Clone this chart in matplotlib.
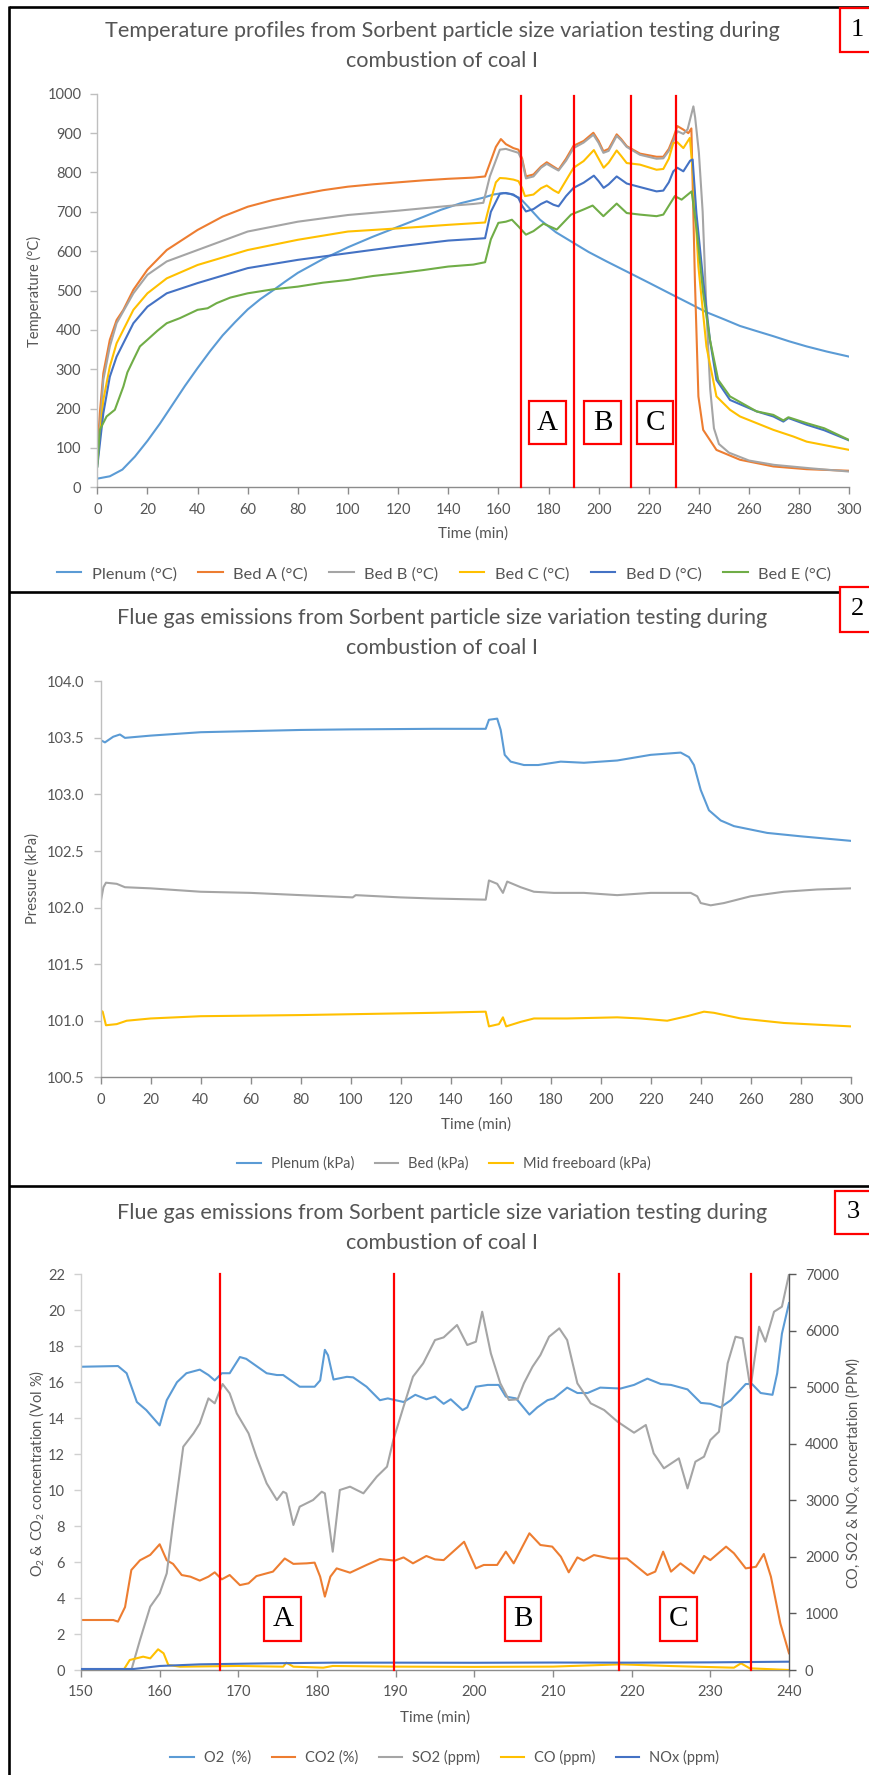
import matplotlib
matplotlib.use("Agg")
import matplotlib.pyplot as plt
from matplotlib.lines import Line2D
from matplotlib.patches import Rectangle

# ---------------------------------------------------------------- data
# Panel 1: temperature profiles (time in min, temperature in deg C)
plenum_t = [0, 5, 10, 15, 20, 25, 30, 35, 40, 45, 50, 55, 60, 65, 70, 75, 80, 90, 100, 110,
            120, 130, 137, 145, 154, 158, 162, 165, 168.6, 172, 176.6, 183, 190, 196, 203.2,
            213.8, 220, 229.8, 236, 243, 250, 256.4, 263, 269.7, 276, 283, 291, 300]
plenum_T = [22, 28, 45, 78, 118, 162, 210, 258, 303, 346, 386, 420, 452, 478, 500, 523, 545, 580, 610, 637,
            662, 687, 705, 722, 736, 744, 748, 745, 735, 712, 680, 648, 621, 598, 574,
            540, 520, 488, 468, 445, 427, 410, 397, 384, 371, 358, 345, 332]

bedA_t = [0, 1, 2.4, 5, 7.7, 10.4, 14.4, 20, 27.7, 40, 50, 60, 70, 80, 90, 100, 110, 120, 130, 140,
          150, 154.7, 157, 159, 161, 163, 166, 168, 169.5, 171, 174, 177, 179.3, 182, 184, 187,
          190, 194, 197.9, 200, 201.9, 204, 207.2, 209, 211.2, 216.5, 223.1, 225.8, 228, 229.8,
          231.4, 233.8, 235.8, 237, 238.4, 239.8, 241.7, 247, 256.4, 269.7, 283, 300]
bedA_T = [86, 188, 290, 375, 425, 451, 502, 553, 603, 654, 688, 713, 730, 743, 755, 764, 770, 775, 780, 784,
          787, 790, 830, 865, 885, 872, 862, 858, 835, 790, 795, 815, 826, 815, 807, 835,
          868, 880, 901, 880, 854, 860, 897, 885, 867, 848, 840, 840, 860, 888,
          918, 909, 900, 912, 527, 231, 146, 95, 70, 53, 46, 42]

bedB_t = [0, 2.4, 5, 7.7, 14.4, 20, 27.7, 40, 60, 80, 100, 120, 140, 150, 154, 156.6, 160.6, 163,
          166, 168, 169.5, 171, 174, 177, 179.3, 182, 184, 187, 190, 194, 197.9, 200, 201.9, 204,
          207.2, 209, 211.2, 216.5, 223.1, 225.8, 228, 229.8, 231.4, 233.8, 235.5, 237.8, 238.5,
          240, 241.5, 243, 244.5, 246, 248, 252, 260, 270, 285, 300]
bedB_T = [61, 273, 358, 417, 493, 540, 574, 603, 650, 675, 692, 703, 715, 720, 723, 790, 858, 860,
          854, 850, 830, 785, 790, 812, 822, 812, 805, 830, 862, 876, 896, 875, 850, 855,
          893, 882, 865, 845, 835, 836, 855, 880, 905, 898, 910, 968, 940,
          850, 700, 450, 250, 150, 110, 88, 68, 57, 48, 40]

bedC_t = [0, 2.4, 5, 7.7, 14.4, 20, 27.7, 40, 60, 80, 100, 120, 140, 150, 154.7, 157, 159, 160.6,
          163, 166, 168, 169.5, 170.6, 174, 177, 179.3, 182, 184, 187, 190, 194, 198.1, 200, 202,
          204, 207.2, 209, 211.2, 216.5, 223.1, 225.8, 228, 229.8, 231.4, 233.8, 236.4, 237.8,
          239.8, 243, 247, 252.4, 256.4, 269.7, 277.7, 283, 300]
bedC_T = [61, 222, 307, 366, 451, 493, 531, 565, 603, 629, 650, 658, 667, 671, 673, 730, 775, 786,
          785, 782, 778, 760, 740, 744, 760, 767, 755, 748, 780, 812, 829, 857, 835, 812,
          825, 856, 842, 824, 820, 807, 809, 835, 875, 877, 862, 888, 782,
          561, 358, 231, 197, 180, 146, 129, 116, 95]

bedD_t = [0, 2.4, 5, 7.7, 14.4, 20, 27.7, 40, 60, 80, 100, 120, 140, 150, 154.7, 157, 160.6, 163,
          166, 168, 169.5, 171, 174, 177, 179.3, 182, 184, 187, 190, 194, 198.1, 200, 202, 204,
          207.2, 209, 211.2, 216.5, 223.1, 225.8, 228, 229.8, 231.4, 233.8, 236.5, 237.5, 239,
          241.7, 244.4, 247, 252.4, 263, 269.7, 273.7, 275.7, 283, 290, 300]
bedD_T = [53, 188, 281, 332, 417, 459, 493, 519, 557, 578, 595, 612, 627, 631, 633, 700, 746, 748,
          744, 735, 715, 701, 707, 720, 727, 718, 714, 740, 761, 774, 792, 778, 761, 770,
          790, 782, 772, 763, 752, 754, 775, 803, 812, 803, 830, 833, 697,
          527, 375, 273, 222, 193, 180, 167, 176, 159, 145, 119]

bedE_t = [0, 1, 3.7, 7, 10.4, 12, 14.4, 17, 20, 24, 27.7, 33, 40, 44, 47.6, 53, 60, 70, 80, 90,
          100, 110, 120, 130, 140, 150, 154.7, 157, 160, 163, 165.4, 168, 171, 174, 178, 183.3,
          189, 194, 197.6, 201.9, 207.2, 211.2, 216.5, 223.1, 225.8, 230.4, 233.1, 237.1, 239.1,
          241.7, 244.4, 247.7, 252.4, 263, 269.7, 273.7, 275.7, 283, 290, 300]
bedE_T = [53, 146, 180, 197, 256, 292, 324, 358, 375, 398, 417, 430, 451, 455, 468, 482, 493, 503, 510, 520,
          527, 537, 544, 552, 561, 566, 572, 630, 672, 675, 680, 663, 642, 651, 670, 655,
          693, 706, 716, 689, 721, 697, 693, 689, 693, 740, 731, 752, 655,
          494, 375, 273, 231, 193, 184, 170, 178, 163, 150, 120]

bed_series = [
    ("Plenum (°C)", plenum_t, plenum_T, "#5B9BD5"),
    ("Bed A (°C)", bedA_t, bedA_T, "#ED7D31"),
    ("Bed B (°C)", bedB_t, bedB_T, "#A5A5A5"),
    ("Bed C (°C)", bedC_t, bedC_T, "#FFC000"),
    ("Bed D (°C)", bedD_t, bedD_T, "#4472C4"),
    ("Bed E (°C)", bedE_t, bedE_T, "#70AD47"),
]
temp_markers = [169.0, 190.3, 212.9, 231.0]
temp_boxes = [("A", 172.1, 186.9), ("B", 194.1, 208.9), ("C", 215.4, 229.8)]

# Panel 2: pressure (time in min, kPa)
p_plenum_t = [0, 1.7, 5, 7.7, 9.7, 20, 40, 60, 80, 100, 133.3, 154, 155.3, 158.6, 160, 161.6, 164,
              169.3, 175, 184, 193.3, 206.6, 220, 232, 235.3, 237.3, 240, 243.3, 248, 253.3,
              266.6, 280, 300]
p_plenum_v = [103.48, 103.46, 103.51, 103.53, 103.50, 103.52, 103.55, 103.56, 103.57, 103.575, 103.58,
              103.58, 103.66, 103.67, 103.57, 103.35, 103.29, 103.26, 103.26, 103.29, 103.28, 103.30,
              103.35, 103.37, 103.33, 103.26, 103.04, 102.86, 102.77, 102.72, 102.66, 102.63, 102.59]

p_bed_t = [0, 1.1, 2.1, 6.4, 9.7, 20, 40, 60, 80, 100.8, 102, 120, 133.3, 154, 155.3, 158.6, 160.9,
           162.6, 168, 173.3, 181.3, 193.3, 206.6, 220, 236, 238.6, 240, 244, 249.3, 260, 273.3,
           286.6, 300]
p_bed_v = [102.05, 102.18, 102.22, 102.21, 102.18, 102.17, 102.14, 102.13, 102.11, 102.09, 102.11,
           102.09, 102.08, 102.07, 102.24, 102.21, 102.13, 102.23, 102.18, 102.14, 102.13, 102.13,
           102.11, 102.13, 102.13, 102.10, 102.04, 102.02, 102.04, 102.10, 102.14, 102.16, 102.17]

p_mid_t = [0, 0.8, 2.1, 6.4, 10.4, 20, 40, 80, 133.3, 154, 155.3, 159.3, 160.9, 162.2, 168, 173.3,
           186.6, 206.6, 216, 226.6, 234.6, 241.3, 245.3, 256, 273.3, 300]
p_mid_v = [101.09, 101.08, 100.96, 100.97, 101.00, 101.02, 101.04, 101.05, 101.07, 101.08, 100.95,
           100.97, 101.03, 100.95, 100.99, 101.02, 101.02, 101.03, 101.02, 101.00, 101.04, 101.08,
           101.07, 101.02, 100.98, 100.95]

# Panel 3: flue gas composition, 150-240 min
o2_t = [150, 154.7, 155.8, 157.1, 158.3, 159.4, 160, 160.9, 162.2, 163.4, 165.1, 166.2, 167, 167.9,
        168.9, 170.2, 171, 173.6, 174.9, 175.7, 177.8, 179.7, 180.4, 181, 181.4, 182.1, 183.8,
        184.6, 186.3, 188, 189, 191, 192.5, 193.9, 195, 196.1, 197, 198.5, 199.1, 200.2, 201.7,
        203.1, 204, 205.3, 207, 208, 209.3, 210.1, 211.8, 213.1, 214.4, 216, 218.6, 220.3, 222,
        223.7, 225, 227.1, 228.8, 230, 231.3, 232.6, 234.5, 235.3, 236.4, 237.9, 238.5, 239.1, 240]
o2_v = [16.86, 16.9, 16.5, 14.9, 14.45, 13.9, 13.6, 15.0, 16.0, 16.5, 16.7, 16.4, 16.1, 16.5,
        16.5, 17.4, 17.3, 16.5, 16.4, 16.4, 15.75, 15.75, 16.1, 17.8, 17.5, 16.15, 16.3,
        16.27, 15.75, 15.0, 15.1, 14.9, 15.3, 15.05, 15.2, 14.8, 15.05, 14.45, 14.6, 15.75, 15.85,
        15.85, 15.2, 15.1, 14.2, 14.6, 15.0, 15.1, 15.7, 15.4, 15.4, 15.7, 15.65, 15.85, 16.2,
        15.9, 15.85, 15.6, 14.85, 14.8, 14.6, 15.0, 15.9, 15.9, 15.4, 15.3, 16.5, 18.7, 20.4]

co2_t = [150, 154.1, 154.7, 155.6, 156.4, 157.5, 158.8, 160, 160.9, 161.7, 162.8, 163.9, 165.1,
         166.2, 167, 167.9, 168.9, 170.2, 171.3, 172.3, 174.4, 175.9, 177, 178.7, 179.7, 180.4, 181,
         181.7, 182.5, 184.2, 186.3, 188, 189.9, 191, 192.2, 193.9, 195, 196.1, 198.7, 200.2, 201.2,
         202.9, 204, 205, 207, 208.4, 209.9, 211, 212, 213.1, 213.9, 215.2, 217.3, 219.4, 222, 223,
         224, 225, 226.2, 227.9, 229.2, 230, 232, 233, 234.5, 235.8, 236.8, 237.7, 238.9, 240]
co2_v = [2.78, 2.78, 2.69, 3.5, 5.56, 6.1, 6.4, 6.99, 6.1, 5.9, 5.28, 5.19, 4.97,
         5.19, 5.43, 5.04, 5.28, 4.72, 4.82, 5.22, 5.47, 6.2, 5.9, 5.93, 5.97, 5.19, 4.08,
         5.19, 5.65, 5.41, 5.84, 6.17, 6.08, 6.26, 5.93, 6.34, 6.15, 6.11, 7.13, 5.65, 5.84,
         5.84, 6.58, 5.93, 7.6, 6.95, 6.86, 6.3, 5.43, 6.26, 6.08, 6.39, 6.2, 6.2, 5.28, 5.47,
         6.58, 5.47, 5.93, 5.37, 6.34, 6.11, 6.86, 6.49, 5.65, 5.74, 6.45, 5.19, 2.59, 0.93]

so2_t = [156.4, 157.5, 158.8, 160, 160.9, 161.7, 163, 164.3, 165.1, 166.2, 167, 168, 168.9, 169.8,
         171.3, 172.3, 173.6, 174.9, 175.7, 176.1, 177, 177.8, 179.5, 180.6, 181, 182, 182.9, 184.2,
         185.9, 187.6, 188.9, 189.7, 191, 192.2, 193.5, 195, 196.1, 197.8, 199.1, 200.2, 201, 202.1,
         203.3, 204.4, 205.5, 206.3, 207.4, 208.4, 209.5, 210.8, 211.8, 213.1, 214.8, 216.5, 218.2,
         220.3, 221.8, 222.8, 224.1, 226, 227.1, 228.1, 229.2, 230, 231.1, 232.2, 233.2, 234.1,
         235.1, 236.2, 237, 238.1, 239.1, 240]
so2_v = [0, 531, 1120, 1356, 1710, 2594, 3950, 4186, 4363, 4805, 4717, 5059, 4894, 4540,
         4186, 3774, 3302, 3007, 3154, 3125, 2565, 2889, 3007, 3154, 3125, 2093, 3184, 3243,
         3125, 3420, 3597, 4068, 4658, 5189, 5425, 5837, 5884, 6103, 5749, 5808, 6338, 5601,
         5071, 4776, 4788, 5071, 5366, 5572, 5896, 6044, 5837, 5071, 4717, 4599, 4393,
         4198, 4334, 3833, 3568, 3744, 3213, 3685, 3774, 4068, 4216, 5425, 5896, 5867,
         4982, 6073, 5808, 6338, 6427, 7000]

co_t = [150, 155.4, 156.2, 157.9, 158.8, 159.8, 160.5, 161.1, 162.6, 170, 175.7, 176.1, 177,
        180.8, 182, 190, 200, 210, 218.6, 225, 233, 233.9, 235, 240]
co_v = [0, 0, 177, 236, 206, 366, 295, 88, 59, 71, 59, 130, 59,
        41, 71, 60, 55, 60, 100, 70, 41, 118, 30, 0]

nox_t = [150, 156.7, 160, 165.1, 173.6, 182.1, 190, 200, 210, 220, 230, 240]
nox_v = [18, 18, 71, 100, 118, 130, 130, 128, 132, 130, 135, 147]

gas_markers = [167.7, 189.8, 218.4, 235.2]
gas_boxes = [("A", 173.3, 178.0), ("B", 203.9, 208.5), ("C", 223.6, 228.3)]

# ---------------------------------------------------------------- style
W, H = 869, 1775
TXT = "#555555"
plt.rcParams['font.family'] = ['Lato', 'DejaVu Sans']
plt.rcParams['mathtext.fontset'] = 'custom'
plt.rcParams['mathtext.rm'] = 'Lato'
plt.rcParams['mathtext.it'] = 'Lato:italic'
plt.rcParams['mathtext.bf'] = 'Lato:bold'

fig = plt.figure(figsize=(W / 100, H / 100), dpi=100)
fig.patch.set_facecolor("white")


def fx(px):
    return px / W


def fy(py):
    return 1 - py / H


def box(x0, y0, x1, y1):
    return [fx(x0), fy(y1), (x1 - x0) / W, (y1 - y0) / H]


def style(ax, left_col="#bfbfbf", bottom_col="#8c8c8c"):
    for s in ("top", "right"):
        ax.spines[s].set_visible(False)
    ax.spines["left"].set_color(left_col)
    ax.spines["bottom"].set_color(bottom_col)
    ax.spines["left"].set_linewidth(1.0)
    ax.spines["bottom"].set_linewidth(1.0)
    ax.tick_params(axis="y", direction="out", length=5, width=1.0, color=left_col,
                   labelsize=10.5, labelcolor=TXT, pad=6.5)
    ax.tick_params(axis="x", direction="out", length=5, width=1.0, color=bottom_col,
                   labelsize=10.5, labelcolor=TXT, pad=6)
    ax.set_facecolor("none")


def title(lines, y1, y2, xc=442):
    fig.text(fx(xc), fy(y1), lines[0], ha="center", va="center", fontsize=15.6, color=TXT)
    fig.text(fx(xc), fy(y2), lines[1], ha="center", va="center", fontsize=15.6, color=TXT)


def tag_box(ax, label, x0, x1, y0, y1):
    ax.add_patch(Rectangle((x0, y0), x1 - x0, y1 - y0, facecolor="white", edgecolor="#ff0000",
                           linewidth=1.6, zorder=6))
    ax.text((x0 + x1) / 2, (y0 + y1) / 2, label, ha="center", va="center", fontsize=21,
            family="Liberation Serif", color="black", zorder=7)


def number_box(label, x0, y0, y1):
    fig.add_artist(Rectangle((fx(x0), fy(y1)), fx(W + 20 - x0), (y1 - y0) / H,
                             transform=fig.transFigure, facecolor="white",
                             edgecolor="#ff0000", linewidth=1.6, zorder=10))
    fig.text(fx(x0 + 17.5), fy((y0 + y1) / 2), label, ha="center", va="center",
             fontsize=19, family="Liberation Serif", color="black", zorder=11)


title_lines_1 = ["Temperature profiles from Sorbent particle size variation testing during",
                 "combustion of coal I"]
title_lines_2 = ["Flue gas emissions from Sorbent particle size variation testing during",
                 "combustion of coal I"]

# ---------------------------------------------------------------- panel 1
ax1 = fig.add_axes(box(97.3, 93.8, 849.3, 487.3))
style(ax1)
for name, t, v, c in bed_series:
    ax1.plot(t, v, color=c, lw=1.5, label=name)
ax1.set_xlim(0, 300)
ax1.set_ylim(0, 1000)
ax1.set_xticks(range(0, 301, 20))
ax1.set_yticks(range(0, 1001, 100))
for xm in temp_markers:
    ax1.plot([xm, xm], [0, 995], color="#ff0000", lw=1.6, zorder=5, clip_on=False)
for lab, x0, x1 in temp_boxes:
    tag_box(ax1, lab, x0, x1, 109, 220)
title(title_lines_1, 30.6, 61.2)
fig.text(fx(473), fy(534), "Time (min)", ha="center", va="center", fontsize=11, color=TXT)
fig.text(fx(34.4), fy(291), "Temperature (°C)", ha="center", va="center", rotation=90,
         fontsize=10.5, color=TXT)
h1, l1 = ax1.get_legend_handles_labels()
fig.legend(h1, l1, loc="center", bbox_to_anchor=(fx(444), fy(574)), ncol=6, frameon=False,
           fontsize=11.8, labelcolor=TXT, handlelength=1.5, handletextpad=0.65, columnspacing=1.3)

# ---------------------------------------------------------------- panel 2
ax2 = fig.add_axes(box(100.7, 681.3, 850.7, 1077.3))
style(ax2)
ax2.plot(p_plenum_t, p_plenum_v, color="#5B9BD5", lw=1.5, label="Plenum (kPa)")
ax2.plot(p_bed_t, p_bed_v, color="#A5A5A5", lw=1.5, label="Bed (kPa)")
ax2.plot(p_mid_t, p_mid_v, color="#FFC000", lw=1.5, label="Mid freeboard (kPa)")
ax2.set_xlim(0, 300)
ax2.set_ylim(100.5, 104.0)
ax2.set_xticks(range(0, 301, 20))
ax2.set_yticks([100.5, 101.0, 101.5, 102.0, 102.5, 103.0, 103.5, 104.0])
ax2.set_yticklabels([f"{v:.1f}" for v in ax2.get_yticks()])
title(title_lines_2, 617.5, 648)
fig.text(fx(475.7), fy(1124.6), "Time (min)", ha="center", va="center", fontsize=11, color=TXT)
fig.text(fx(33), fy(878), "Pressure (kPa)", ha="center", va="center", rotation=90,
         fontsize=10.5, color=TXT)
h2, l2 = ax2.get_legend_handles_labels()
fig.legend(h2, l2, loc="center", bbox_to_anchor=(fx(444), fy(1163.6)), ncol=3, frameon=False,
           fontsize=10.5, labelcolor=TXT, handlelength=1.6, handletextpad=0.7, columnspacing=1.4)

# ---------------------------------------------------------------- panel 3
ax3 = fig.add_axes(box(81, 1274.3, 789, 1670))
style(ax3, left_col="#d0d0d0", bottom_col="#8c8c8c")
ax3r = ax3.twinx()
ax3r.set_position(box(81, 1274.3, 789, 1670))
for s in ("top", "left", "bottom"):
    ax3r.spines[s].set_visible(False)
ax3r.spines["right"].set_color("#595959")
ax3r.spines["right"].set_linewidth(1.0)
ax3r.tick_params(axis="y", direction="out", length=5, width=1.0, color="#595959",
                 labelsize=10.5, labelcolor=TXT, pad=6.5)

ln_o2, = ax3.plot(o2_t, o2_v, color="#5B9BD5", lw=1.5, label="O2  (%)")
ln_co2, = ax3.plot(co2_t, co2_v, color="#ED7D31", lw=1.5, label="CO2 (%)")
ln_so2, = ax3r.plot(so2_t, so2_v, color="#A5A5A5", lw=1.5, label="SO2 (ppm)")
ln_co, = ax3r.plot(co_t, co_v, color="#FFC000", lw=1.5, label="CO (ppm)")
ln_nox, = ax3r.plot(nox_t, nox_v, color="#4472C4", lw=1.5, label="NOx (ppm)")
ax3.set_xlim(150, 240)
ax3.set_ylim(0, 22)
ax3.set_xticks(range(150, 241, 10))
ax3.set_yticks(range(0, 23, 2))
ax3r.set_ylim(0, 7000)
ax3r.set_yticks(range(0, 7001, 1000))
for xm in gas_markers:
    ax3r.plot([xm, xm], [0, 7000], color="#ff0000", lw=1.6, zorder=5, clip_on=False)
for lab, x0, x1 in gas_boxes:
    tag_box(ax3r, lab, x0, x1, 1.61 * 7000 / 22, 4.07 * 7000 / 22)
title(title_lines_2, 1213.2, 1243.3)
fig.text(fx(435), fy(1717.4), "Time (min)", ha="center", va="center", fontsize=11, color=TXT)
fig.text(fx(36.7), fy(1473), "O$_\\mathregular{2}$ & CO$_\\mathregular{2}$ concentration (Vol %)",
         ha="center", va="center", rotation=90, fontsize=10.5, color=TXT)
fig.text(fx(852.3), fy(1472.5), "CO, SO2 & NO$_\\mathregular{x}$ concertation (PPM)",
         ha="center", va="center", rotation=90, fontsize=10.5, color=TXT)
h3 = [ln_o2, ln_co2, ln_so2, ln_co, ln_nox]
fig.legend(h3, [h.get_label() for h in h3], loc="center", bbox_to_anchor=(fx(445), fy(1757.6)),
           ncol=5, frameon=False, fontsize=10.5, labelcolor=TXT, handlelength=1.6,
           handletextpad=0.7, columnspacing=1.4)

# ---------------------------------------------------------------- frame and panel numbers
frame_kw = dict(color="black", lw=1.9, transform=fig.transFigure, zorder=9,
                solid_capstyle="butt")
fig.add_artist(Line2D([fx(9.4), fx(9.4)], [fy(5.6), fy(H + 5)], **frame_kw))
for yy in (6.5, 591.7, 1186.0):
    fig.add_artist(Line2D([fx(8.5), fx(W + 5)], [fy(yy), fy(yy)], **frame_kw))
number_box("1", 839.5, 7.7, 51.7)
number_box("2", 839.8, 587.0, 631.7)
number_box("3", 835.4, 1190.6, 1233.9)

fig.savefig("out.png", dpi=100, facecolor="white")
